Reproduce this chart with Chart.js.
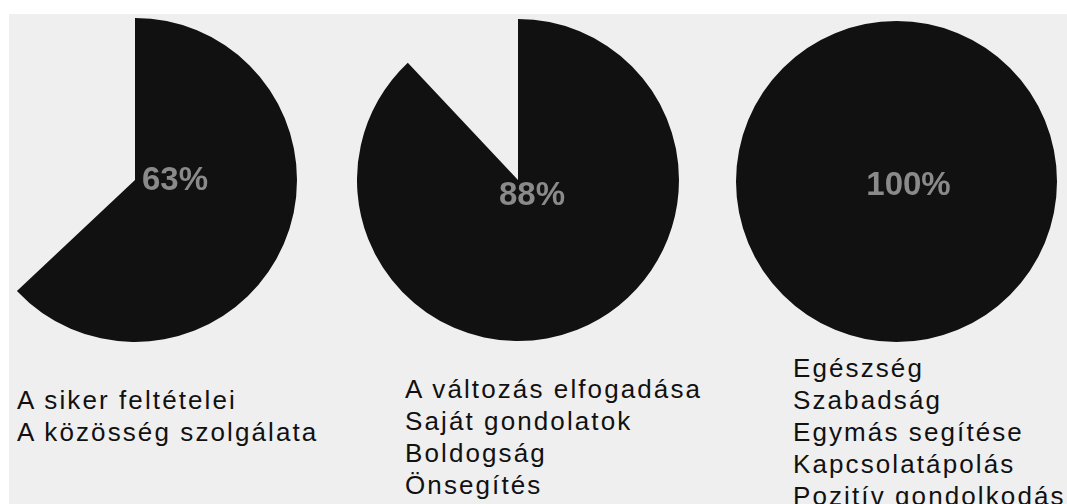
<!DOCTYPE html>
<html>
<head>
<meta charset="utf-8">
<script src="https://cdn.jsdelivr.net/npm/chart.js@4.4.1/dist/chart.umd.min.js"></script>
<style>
  html, body { margin: 0; padding: 0; background: #ffffff; }
  body { width: 1067px; height: 504px; overflow: hidden; position: relative; }
  #panel { position: absolute; left: 9px; top: 14px; right: 0; bottom: 0; background: #efefef; }
  .pie { position: absolute; }
  .items {
    position: absolute;
    font-family: "Liberation Sans", Arial, sans-serif;
    font-size: 26px;
    line-height: 32px;
    letter-spacing: 2.1px;
    color: #111111;
    white-space: nowrap;
  }
</style>
</head>
<body>
<div id="panel"></div>

<script>
// percentages shown in each circle
const percents = [63, 88, 100];

// what each circle stands for
const items = [
  ["A siker feltételei", "A közösség szolgálata"],
  ["A változás elfogadása", "Saját gondolatok", "Boldogság", "Önsegítés"],
  ["Egészség", "Szabadság", "Egymás segítése", "Kapcsolatápolás", "Pozitív gondolkodás"]
];

// layout for each column: pie centre/radius, label nudge, list position
const layout = [
  { cx: 135,   cy: 180, r: 162,   dx: 40, dy: 1,  left: 17,  top: 384 },
  { cx: 518,   cy: 180, r: 161,   dx: 14, dy: 16, left: 405, top: 373 },
  { cx: 896.5, cy: 181, r: 160.5, dx: 12, dy: 4,  left: 793, top: 352 }
];

const centerLabel = {
  id: 'centerLabel',
  afterDatasetsDraw(chart, args, opts) {
    const arc = chart.getDatasetMeta(0).data[0];
    const ctx = chart.ctx;
    ctx.save();
    ctx.font = 'bold 33px "Liberation Sans", Arial, sans-serif';
    ctx.fillStyle = '#8a8a8a';
    ctx.textAlign = 'center';
    ctx.textBaseline = 'middle';
    ctx.fillText(opts.text, arc.x + opts.dx, arc.y + opts.dy);
    ctx.restore();
  }
};

percents.forEach((p, i) => {
  const L = layout[i];
  const size = Math.round(L.r * 2);

  const box = document.createElement('div');
  box.className = 'pie';
  box.style.left = (L.cx - size / 2) + 'px';
  box.style.top = (L.cy - size / 2) + 'px';
  box.style.width = size + 'px';
  box.style.height = size + 'px';
  const canvas = document.createElement('canvas');
  canvas.width = size;
  canvas.height = size;
  box.appendChild(canvas);
  document.body.appendChild(box);

  new Chart(canvas, {
    type: 'pie',
    data: {
      labels: ['done', 'rest'],
      datasets: [{
        data: [p, 100 - p],
        backgroundColor: ['#111111', 'rgba(0,0,0,0)'],
        borderWidth: 0
      }]
    },
    options: {
      responsive: false,
      animation: false,
      layout: { padding: 0 },
      plugins: {
        legend: { display: false },
        tooltip: { enabled: false },
        centerLabel: { text: p + '%', dx: L.dx, dy: L.dy }
      }
    },
    plugins: [centerLabel]
  });

  const list = document.createElement('div');
  list.className = 'items';
  list.style.left = L.left + 'px';
  list.style.top = L.top + 'px';
  list.innerHTML = items[i].join('<br>');
  document.body.appendChild(list);
});
</script>
</body>
</html>
